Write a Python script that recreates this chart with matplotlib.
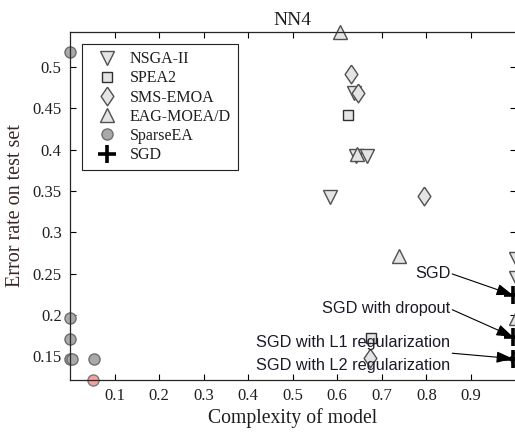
import numpy as np
import matplotlib.pyplot as plt
from matplotlib.lines import Line2D

# values (x: complexity, y: error rate)
nsga_x = [0.583, 0.637, 0.641, 0.667, 1.0, 1.0]
nsga_y = [0.343, 0.469, 0.392, 0.392, 0.268, 0.245]
spea_x = [0.624, 0.675]
spea_y = [0.442, 0.172]
sms_x = [0.630, 0.646, 0.795, 0.673, 1.0]
sms_y = [0.492, 0.468, 0.344, 0.148, 0.147]
eag_x = [0.606, 0.645, 0.739, 1.0]
eag_y = [0.543, 0.395, 0.271, 0.196]
sparse_x = [0.0, 0.001, 0.001, 0.0, 0.005, 0.054]
sparse_y = [0.518, 0.196, 0.171, 0.146, 0.146, 0.146]
sparse_best_x = [0.052]
sparse_best_y = [0.1217]
sgd_x = [0.994, 0.994, 0.994]
sgd_y = [0.224, 0.1735, 0.147]
sgd_names = ['SGD', 'SGD with dropout', 'SGD with L1 regularization',
             'SGD with L2 regularization']

legend_names = ['NSGA-II', 'SPEA2', 'SMS-EMOA', 'EAG-MOEA/D', 'SparseEA', 'SGD']
xticks = [0.1, 0.2, 0.3, 0.4, 0.5, 0.6, 0.7, 0.8, 0.9]
yticks = [0.15, 0.2, 0.25, 0.3, 0.35, 0.4, 0.45, 0.5]

serif = 'Liberation Serif'
txt = '#1e1e1e'
light = '#e4e4e4'
edge = '#505050'
# matlab-like diamond, a bit wider than matplotlib's 'd'
diamond = [(0, 1), (0.68, 0), (0, -1), (-0.68, 0), (0, 1)]
dsize = 13.5

fig = plt.figure(figsize=(5.15, 4.32), dpi=100)
ax = fig.add_axes([70 / 515, 1 - 379.5 / 432, 445.5 / 515, 348 / 432])

ms = dict(linestyle='none', clip_on=False, markeredgewidth=1.0)
ax.plot(nsga_x, nsga_y, marker='v', markersize=10, markerfacecolor=light,
        markeredgecolor=edge, **ms)
ax.plot(spea_x, spea_y, marker='s', markersize=6.5, markerfacecolor=light,
        markeredgecolor='#303030', **ms)
ax.plot(sms_x, sms_y, marker=diamond, markersize=dsize, markerfacecolor=light,
        markeredgecolor=edge, **ms)
ax.plot(eag_x, eag_y, marker='^', markersize=10, markerfacecolor=light,
        markeredgecolor=edge, **ms)
ax.plot(sparse_x, sparse_y, marker='o', markersize=8, markerfacecolor='#a9a9a9',
        markeredgecolor='#6e6e6e', **ms)
ax.plot(sparse_best_x, sparse_best_y, marker='o', markersize=8,
        markerfacecolor='#f4a3a3', markeredgecolor='#7a7a7a', **ms)
ax.plot(sgd_x, sgd_y, marker='+', markersize=13, markeredgewidth=2.6,
        color='black', linestyle='none', clip_on=False, zorder=5)

# annotations (text right ends and arrow tails in data coords)
ann_text_y = [0.2506, 0.2072, 0.1663, 0.1386]
tails = [(0.858, 0.2495), (0.858, 0.2062), (0.858, 0.1535)]
for name, ty in zip(sgd_names, ann_text_y):
    ax.text(0.854, ty, name, ha='right', va='center', fontsize=11.7,
            family='Liberation Sans', color='#1a1a2a')
for (tx, ty), px, py in zip(tails, sgd_x, sgd_y):
    ax.annotate('', xy=(px, py), xytext=(tx, ty), annotation_clip=False,
                arrowprops=dict(arrowstyle='-|>,head_length=1.0,head_width=0.35',
                                color='black', lw=0.8, shrinkA=0, shrinkB=0),
                zorder=6)

ax.set_xlim(0, 1.0)
ax.set_ylim(0.1217, 0.543)
ax.set_xticks(xticks)
ax.set_xticklabels([f'{v:g}' for v in xticks])
ax.set_yticks(yticks)
ax.set_yticklabels([f'{v:g}' for v in yticks])
ax.tick_params(direction='in', length=4, width=0.8, top=True, right=True,
               labelsize=12, labelcolor=txt, pad=6)
for lab in ax.get_xticklabels() + ax.get_yticklabels():
    lab.set_family(serif)
for s in ax.spines.values():
    s.set_linewidth(0.9)
    s.set_color('#262626')
ax.spines['right'].set_visible(False)

ax.set_title('NN4', family=serif, fontsize=14, color=txt, pad=5)
ax.set_xlabel('Complexity of model', family=serif, fontsize=14.2, color=txt,
              labelpad=3)
ax.set_ylabel('Error rate on test set', family=serif, fontsize=14.5,
              color='#3a2626', labelpad=5)

handles = [
    Line2D([], [], linestyle='none', marker='v', markersize=10,
           markerfacecolor=light, markeredgecolor=edge),
    Line2D([], [], linestyle='none', marker='s', markersize=6.5,
           markerfacecolor=light, markeredgecolor='#303030'),
    Line2D([], [], linestyle='none', marker=diamond, markersize=dsize,
           markerfacecolor=light, markeredgecolor=edge),
    Line2D([], [], linestyle='none', marker='^', markersize=10,
           markerfacecolor=light, markeredgecolor=edge),
    Line2D([], [], linestyle='none', marker='o', markersize=8,
           markerfacecolor='#a9a9a9', markeredgecolor='#6e6e6e'),
    Line2D([], [], linestyle='none', marker='+', markersize=13,
           markeredgewidth=2.6, color='black'),
]
leg = ax.legend(handles, legend_names, loc='upper left',
                bbox_to_anchor=(0.027, 0.964), borderaxespad=0, fancybox=False,
                edgecolor='#222222', framealpha=1, prop={'family': serif, 'size': 11.5},
                labelspacing=0.2, handletextpad=0.35, borderpad=0.45,
                handlelength=2.2)
leg.get_frame().set_linewidth(0.8)
for t in leg.get_texts():
    t.set_color(txt)

fig.savefig('out.png', dpi=100)
